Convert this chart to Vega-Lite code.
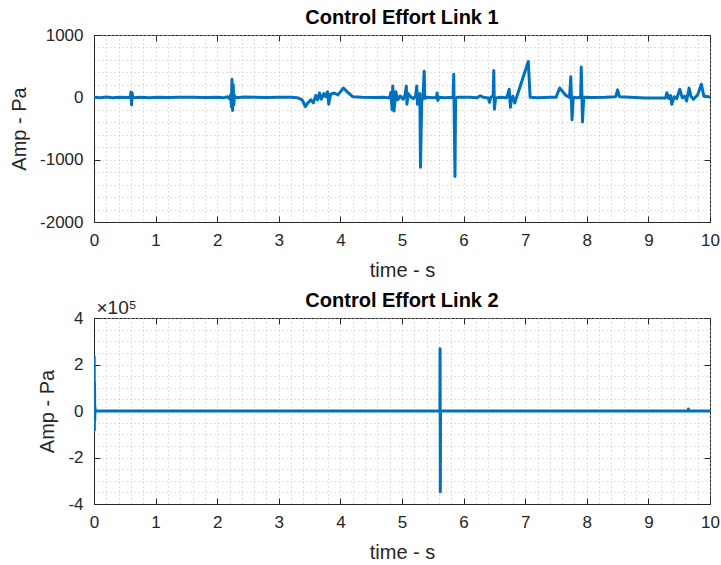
{
  "$schema": "https://vega.github.io/schema/vega-lite/v6.json",
  "background": "white",
  "padding": {"left": 9, "top": 7, "right": 5, "bottom": 5},
  "spacing": 9,
  "datasets": {
    "link1": [
      {"t": 0, "v": 0}, {"t": 0.1, "v": -6}, {"t": 0.2, "v": 4}, {"t": 0.3, "v": -8}, {"t": 0.42, "v": 2},
      {"t": 0.55, "v": -3}, {"t": 0.59, "v": 0}, {"t": 0.6, "v": 85}, {"t": 0.61, "v": -120}, {"t": 0.62, "v": 70},
      {"t": 0.63, "v": -5}, {"t": 0.75, "v": 0}, {"t": 0.9, "v": -6}, {"t": 1.05, "v": 3}, {"t": 1.2, "v": -2},
      {"t": 1.4, "v": 0}, {"t": 1.6, "v": 3}, {"t": 1.8, "v": -4}, {"t": 2.0, "v": 2}, {"t": 2.1, "v": -8},
      {"t": 2.17, "v": 10}, {"t": 2.2, "v": -25}, {"t": 2.22, "v": 40}, {"t": 2.23, "v": -150}, {"t": 2.24, "v": 290},
      {"t": 2.25, "v": -210}, {"t": 2.26, "v": 200}, {"t": 2.27, "v": -120}, {"t": 2.28, "v": 30}, {"t": 2.3, "v": -5},
      {"t": 2.45, "v": 5}, {"t": 2.6, "v": 0}, {"t": 2.8, "v": -3}, {"t": 3.0, "v": 2}, {"t": 3.2, "v": 0},
      {"t": 3.3, "v": -5}, {"t": 3.38, "v": -40}, {"t": 3.43, "v": -150}, {"t": 3.47, "v": -90}, {"t": 3.52, "v": -40},
      {"t": 3.56, "v": -90}, {"t": 3.6, "v": 30}, {"t": 3.63, "v": -40}, {"t": 3.66, "v": 70}, {"t": 3.69, "v": -30},
      {"t": 3.73, "v": 60}, {"t": 3.76, "v": 10}, {"t": 3.79, "v": 90}, {"t": 3.81, "v": -110}, {"t": 3.84, "v": 50},
      {"t": 3.9, "v": 70}, {"t": 3.96, "v": 40}, {"t": 4.05, "v": 150}, {"t": 4.12, "v": 80}, {"t": 4.2, "v": 10},
      {"t": 4.35, "v": 0}, {"t": 4.55, "v": -4}, {"t": 4.7, "v": 0}, {"t": 4.8, "v": -10}, {"t": 4.82, "v": 80},
      {"t": 4.84, "v": -200}, {"t": 4.85, "v": 180}, {"t": 4.87, "v": -220}, {"t": 4.9, "v": 90}, {"t": 4.93, "v": -40},
      {"t": 4.97, "v": 20}, {"t": 5.02, "v": -30}, {"t": 5.05, "v": 40}, {"t": 5.07, "v": 180}, {"t": 5.08, "v": -110},
      {"t": 5.1, "v": 60}, {"t": 5.14, "v": 10}, {"t": 5.18, "v": -20}, {"t": 5.22, "v": 20}, {"t": 5.24, "v": 180},
      {"t": 5.25, "v": -110}, {"t": 5.27, "v": 0}, {"t": 5.29, "v": 60}, {"t": 5.3, "v": -1120}, {"t": 5.32, "v": -60},
      {"t": 5.34, "v": 0}, {"t": 5.36, "v": 420}, {"t": 5.37, "v": -20}, {"t": 5.4, "v": 0}, {"t": 5.5, "v": -8},
      {"t": 5.56, "v": 0}, {"t": 5.57, "v": 70}, {"t": 5.58, "v": -50}, {"t": 5.6, "v": 0}, {"t": 5.7, "v": -5},
      {"t": 5.83, "v": 0}, {"t": 5.84, "v": 370}, {"t": 5.86, "v": -1270}, {"t": 5.87, "v": -20}, {"t": 5.9, "v": 0},
      {"t": 6.1, "v": 0}, {"t": 6.22, "v": -6}, {"t": 6.27, "v": 25}, {"t": 6.32, "v": 0}, {"t": 6.4, "v": -10},
      {"t": 6.42, "v": -80}, {"t": 6.44, "v": 0}, {"t": 6.48, "v": 20}, {"t": 6.49, "v": 430}, {"t": 6.5, "v": -190},
      {"t": 6.52, "v": -10}, {"t": 6.6, "v": 0}, {"t": 6.7, "v": -6}, {"t": 6.74, "v": 130}, {"t": 6.76, "v": -160},
      {"t": 6.78, "v": -10}, {"t": 6.8, "v": 20}, {"t": 6.83, "v": -90}, {"t": 7.05, "v": 575}, {"t": 7.08, "v": 0},
      {"t": 7.2, "v": -5}, {"t": 7.4, "v": 0}, {"t": 7.5, "v": 0}, {"t": 7.56, "v": 150}, {"t": 7.66, "v": 30},
      {"t": 7.72, "v": 0}, {"t": 7.74, "v": 330}, {"t": 7.76, "v": -360}, {"t": 7.78, "v": 0}, {"t": 7.85, "v": -5},
      {"t": 7.9, "v": 0}, {"t": 7.91, "v": 485}, {"t": 7.93, "v": -395}, {"t": 7.95, "v": 0}, {"t": 8.1, "v": -4},
      {"t": 8.3, "v": 0}, {"t": 8.47, "v": 10}, {"t": 8.5, "v": 120}, {"t": 8.53, "v": 10}, {"t": 8.7, "v": 0},
      {"t": 8.95, "v": -10}, {"t": 9.28, "v": -10}, {"t": 9.3, "v": 75}, {"t": 9.33, "v": -20}, {"t": 9.36, "v": 30},
      {"t": 9.38, "v": -110}, {"t": 9.42, "v": 10}, {"t": 9.46, "v": -20}, {"t": 9.51, "v": 130}, {"t": 9.55, "v": -10},
      {"t": 9.59, "v": 20}, {"t": 9.62, "v": -60}, {"t": 9.66, "v": 150}, {"t": 9.69, "v": 20}, {"t": 9.73, "v": -30},
      {"t": 9.8, "v": 40}, {"t": 9.86, "v": 210}, {"t": 9.9, "v": 20}, {"t": 10, "v": 5}
    ],
    "link2": [
      {"t": 0, "v": 0}, {"t": 0.003, "v": 236000}, {"t": 0.006, "v": -83000}, {"t": 0.009, "v": 120000},
      {"t": 0.012, "v": -40000}, {"t": 0.016, "v": 15000}, {"t": 0.02, "v": 0}, {"t": 1, "v": 500},
      {"t": 2, "v": -500}, {"t": 3, "v": 400}, {"t": 4, "v": -300}, {"t": 5, "v": 300},
      {"t": 5.615, "v": 0}, {"t": 5.618, "v": 268000}, {"t": 5.622, "v": -347000}, {"t": 5.625, "v": 0},
      {"t": 7, "v": 400}, {"t": 8.5, "v": -400}, {"t": 9.645, "v": 0}, {"t": 9.65, "v": 9000},
      {"t": 9.655, "v": 0}, {"t": 10, "v": 0}
    ]
  },
  "vconcat": [
    {
      "width": 616,
      "height": 187,
      "title": {"text": "Control Effort Link 1", "offset": -2},
      "data": {"name": "link1"},
      "layer": [
        {
          "mark": {"type": "line", "color": "#0072BD", "strokeWidth": 3, "strokeJoin": "round", "strokeCap": "round", "clip": true},
          "encoding": {
            "x": {
              "field": "t", "type": "quantitative",
              "scale": {"domain": [0, 10], "nice": false, "zero": false},
              "axis": {
                "orient": "bottom", "title": "time - s", "grid": true,
                "values": [0,0.2,0.4,0.6,0.8,1,1.2,1.4,1.6,1.8,2,2.2,2.4,2.6,2.8,3,3.2,3.4,3.6,3.8,4,4.2,4.4,4.6,4.8,5,5.2,5.4,5.6,5.8,6,6.2,6.4,6.6,6.8,7,7.2,7.4,7.6,7.8,8,8.2,8.4,8.6,8.8,9,9.2,9.4,9.6,9.8,10],
                "labelExpr": "abs(datum.value - round(datum.value)) < 0.000001 ? '' + round(datum.value) : ''",
                "tickOpacity": {"condition": {"test": "abs(datum.value - round(datum.value)) < 0.000001", "value": 1}, "value": 0},
                "labelPadding": 16.5, "titlePadding": 12
              }
            },
            "y": {
              "field": "v", "type": "quantitative",
              "scale": {"domain": [-2000, 1000], "nice": false, "zero": false},
              "axis": {
                "orient": "left", "title": "Amp - Pa", "grid": true,
                "values": [-2000,-1800,-1600,-1400,-1200,-1000,-800,-600,-400,-200,0,200,400,600,800,1000],
                "labelExpr": "datum.value % 1000 === 0 ? '' + datum.value : ''",
                "tickOpacity": {"condition": {"test": "datum.value % 1000 === 0", "value": 1}, "value": 0},
                "labelPadding": 17, "titlePadding": 10
              }
            }
          }
        },
        {
          "mark": {"type": "line", "opacity": 0},
          "encoding": {
            "x": {
              "field": "t", "type": "quantitative",
              "axis": {"orient": "top", "title": null, "labels": false, "grid": false, "domain": false, "values": [0,1,2,3,4,5,6,7,8,9,10]}
            },
            "y": {
              "field": "v", "type": "quantitative",
              "axis": {"orient": "right", "title": null, "labels": false, "grid": false, "domain": false, "values": [-2000,-1000,0,1000]}
            }
          }
        }
      ],
      "resolve": {"axis": {"x": "independent", "y": "independent"}}
    },
    {
      "width": 616,
      "height": 186,
      "title": {"text": "Control Effort Link 2", "offset": -12},
      "data": {"name": "link2"},
      "layer": [
        {
          "mark": {"type": "line", "color": "#0072BD", "strokeWidth": 3, "strokeJoin": "round", "strokeCap": "round", "clip": true},
          "encoding": {
            "x": {
              "field": "t", "type": "quantitative",
              "scale": {"domain": [0, 10], "nice": false, "zero": false},
              "axis": {
                "orient": "bottom", "title": "time - s", "grid": true,
                "values": [0,0.2,0.4,0.6,0.8,1,1.2,1.4,1.6,1.8,2,2.2,2.4,2.6,2.8,3,3.2,3.4,3.6,3.8,4,4.2,4.4,4.6,4.8,5,5.2,5.4,5.6,5.8,6,6.2,6.4,6.6,6.8,7,7.2,7.4,7.6,7.8,8,8.2,8.4,8.6,8.8,9,9.2,9.4,9.6,9.8,10],
                "labelExpr": "abs(datum.value - round(datum.value)) < 0.000001 ? '' + round(datum.value) : ''",
                "tickOpacity": {"condition": {"test": "abs(datum.value - round(datum.value)) < 0.000001", "value": 1}, "value": 0},
                "labelPadding": 16.5, "titlePadding": 12
              }
            },
            "y": {
              "field": "v", "type": "quantitative",
              "scale": {"domain": [-400000, 400000], "nice": false, "zero": false},
              "axis": {
                "orient": "left", "title": "Amp - Pa", "grid": true,
                "values": [-400000,-350000,-300000,-250000,-200000,-150000,-100000,-50000,0,50000,100000,150000,200000,250000,300000,350000,400000],
                "labelExpr": "datum.value % 200000 === 0 ? '' + (datum.value / 100000) : ''",
                "tickOpacity": {"condition": {"test": "datum.value % 200000 === 0", "value": 1}, "value": 0},
                "labelPadding": 17, "titlePadding": 10
              }
            }
          }
        },
        {
          "mark": {"type": "line", "opacity": 0},
          "encoding": {
            "x": {
              "field": "t", "type": "quantitative",
              "axis": {
                "orient": "top", "labels": false, "grid": false, "domain": false, "values": [0,1,2,3,4,5,6,7,8,9,10],
                "title": "×10⁵", "titleAngle": 0, "titleAlign": "left", "titleBaseline": "alphabetic",
                "titleX": 2, "titleY": -4.5, "titleFontSize": 19
              }
            },
            "y": {
              "field": "v", "type": "quantitative",
              "axis": {"orient": "right", "title": null, "labels": false, "grid": false, "domain": false, "values": [-400000,-200000,0,200000,400000]}
            }
          }
        }
      ],
      "resolve": {"axis": {"x": "independent", "y": "independent"}}
    }
  ],
  "config": {
    "view": {"stroke": "#262626", "strokeWidth": 1},
    "font": "Liberation Sans",
    "title": {"font": "Liberation Sans", "fontSize": 20, "fontWeight": "bold", "color": "#000000", "anchor": "middle"},
    "axis": {
      "labelFont": "Liberation Sans", "labelFontSize": 17, "labelColor": "#262626",
      "titleFont": "Liberation Sans", "titleFontSize": 20, "titleFontWeight": "normal", "titleColor": "#262626",
      "tickColor": "#262626", "tickSize": -6, "tickWidth": 1,
      "domainColor": "#262626", "domainWidth": 1,
      "gridColor": "#bebebe", "gridDash": [1, 3], "gridWidth": 1, "gridOpacity": 1,
      "labelFlush": false, "labelOverlap": false, "labelBound": false
    }
  }
}
